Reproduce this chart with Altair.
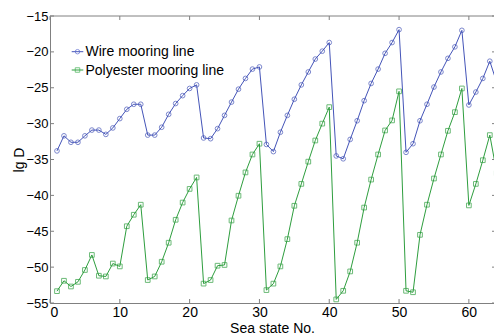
import altair as alt
import pandas as pd

# ---- data ----
sea_state = list(range(1, 65))
wire = [-33.8, -31.7, -32.6, -32.6, -31.7, -30.9, -30.9, -31.5, -30.6, -29.3,
        -28.0, -27.3, -27.3, -31.6, -31.6, -30.5, -28.7, -27.2, -26.1, -25.1,
        -24.6, -32.0, -32.1, -30.7, -28.85, -27.0, -25.2, -23.7, -22.4, -22.1,
        -32.9, -33.9, -31.2, -28.85, -26.6, -24.6, -22.8, -21.0, -19.9, -18.7,
        -34.5, -34.9, -32.2, -29.6, -26.8, -24.4, -22.4, -20.2, -18.7, -16.9,
        -34.0, -32.8, -29.6, -27.3, -24.9, -22.8, -20.9, -19.3, -17.0, -27.4,
        -25.6, -23.7, -21.3, -24.3]
polyester = [-53.35, -51.9, -52.7, -52.05, -50.4, -48.3, -51.2, -51.3, -49.5, -49.9,
             -44.3, -42.7, -41.3, -51.8, -51.3, -49.25, -46.6, -43.4, -41.0, -39.1,
             -37.5, -52.3, -51.8, -49.8, -49.7, -43.5, -40.05, -36.8, -34.3, -32.8,
             -53.2, -52.3, -49.9, -46.1, -41.45, -38.4, -35.3, -32.35, -30.0, -27.7,
             -54.5, -53.3, -50.6, -46.6, -41.7, -37.8, -34.3, -30.95, -29.55, -25.5,
             -53.3, -53.5, -45.5, -41.3, -37.65, -34.3, -31.0, -28.4, -25.1, -41.4,
             -38.4, -35.1, -31.6, -36.9]
series_names = ["Wire mooring line", "Polyester mooring line"]
x_ticks = [0, 10, 20, 30, 40, 50, 60]
y_ticks = [-55, -50, -45, -40, -35, -30, -25, -20, -15]

# ---- style ----
line_colors = ["#4454B8", "#2E9E3E"]
marker_colors = ["#5A6AD0", "#3DB04F"]
shapes = ["circle", "square"]
axis_gray = "#808080"
FONT = "Liberation Sans"
W, H = 444, 287

df = pd.DataFrame({
    "state": sea_state * 2,
    "lgD": wire + polyester,
    "series": [series_names[0]] * len(wire) + [series_names[1]] * len(polyester),
})

xscale = alt.Scale(domain=[0, 63.6], nice=False, zero=False)
yscale = alt.Scale(domain=[-55, -15], nice=False, zero=False)
xaxis = alt.Axis(values=x_ticks, title="Sea state No.", ticks=False, grid=False,
                 domainColor=axis_gray, labelPadding=2, titlePadding=2, labelFontSize=14)
yaxis = alt.Axis(values=y_ticks, title="lg D", ticks=False, grid=False,
                 domainColor=axis_gray, labelPadding=2, labelFontSize=13,
                 titleX=-31, titleY=H / 2, titleBaseline="middle", titleAlign="center",
                 titleAngle=270)

base = alt.Chart(df)

lines = base.mark_line(strokeWidth=1, clip=True).encode(
    x=alt.X("state:Q", scale=xscale, axis=xaxis),
    y=alt.Y("lgD:Q", scale=yscale, axis=yaxis),
    color=alt.Color("series:N", scale=alt.Scale(domain=series_names, range=line_colors), legend=None),
)

points = base.mark_point(filled=False, size=22, strokeWidth=1, clip=True).encode(
    x=alt.X("state:Q", scale=xscale, axis=xaxis),
    y=alt.Y("lgD:Q", scale=yscale, axis=yaxis),
    color=alt.Color("series:N", scale=alt.Scale(domain=series_names, range=marker_colors), legend=None),
    shape=alt.Shape("series:N", scale=alt.Scale(domain=series_names, range=shapes), legend=None),
)

xt = alt.Chart(pd.DataFrame({"state": x_ticks}))
yt = alt.Chart(pd.DataFrame({"lgD": y_ticks}))
xticks_bottom = xt.mark_rule(color=axis_gray, strokeWidth=1).encode(
    x=alt.X("state:Q", scale=xscale, axis=xaxis), y=alt.value(H), y2=alt.value(H - 4))
xticks_top = xt.mark_rule(color=axis_gray, strokeWidth=1).encode(
    x=alt.X("state:Q", scale=xscale, axis=xaxis), y=alt.value(0), y2=alt.value(4))
yticks_left = yt.mark_rule(color=axis_gray, strokeWidth=1).encode(
    y=alt.Y("lgD:Q", scale=yscale, axis=yaxis), x=alt.value(0), x2=alt.value(4))
yticks_right = yt.mark_rule(color=axis_gray, strokeWidth=1).encode(
    y=alt.Y("lgD:Q", scale=yscale, axis=yaxis), x=alt.value(W - 2), x2=alt.value(W))

one = alt.Chart(pd.DataFrame({"k": [0]}))
top_border = one.mark_rule(color=axis_gray, strokeWidth=1).encode(
    x=alt.value(0), x2=alt.value(W), y=alt.value(0))

legend_layers = []
for i, name in enumerate(series_names):
    ly = 35.7 + i * 18.3
    legend_layers.append(one.mark_rule(color=line_colors[i], strokeWidth=1).encode(
        x=alt.value(21.7), x2=alt.value(33.3), y=alt.value(ly)))
    legend_layers.append(one.mark_point(filled=False, size=20, strokeWidth=1,
                                        color=marker_colors[i], shape=shapes[i]).encode(
        x=alt.value(27.5), y=alt.value(ly)))
    legend_layers.append(one.mark_text(align="left", baseline="middle", font=FONT,
                                       fontSize=14, color="black").encode(
        x=alt.value(35.5), y=alt.value(ly + 0.5), text=alt.value(name)))

chart = alt.layer(
    lines, points, xticks_bottom, xticks_top, yticks_left, yticks_right, top_border,
    *legend_layers
).properties(
    width=W, height=H,
    autosize=alt.AutoSizeParams(type="none"),
    padding={"left": 50, "top": 16, "right": 0, "bottom": 31},
    background="white",
).configure_view(
    stroke=None
).configure_axis(
    labelFont=FONT, labelColor="black",
    titleFont=FONT, titleFontSize=14, titleFontWeight="normal", titleColor="black",
)

chart.save("out.html", embed_options={"renderer": "svg", "actions": False})
